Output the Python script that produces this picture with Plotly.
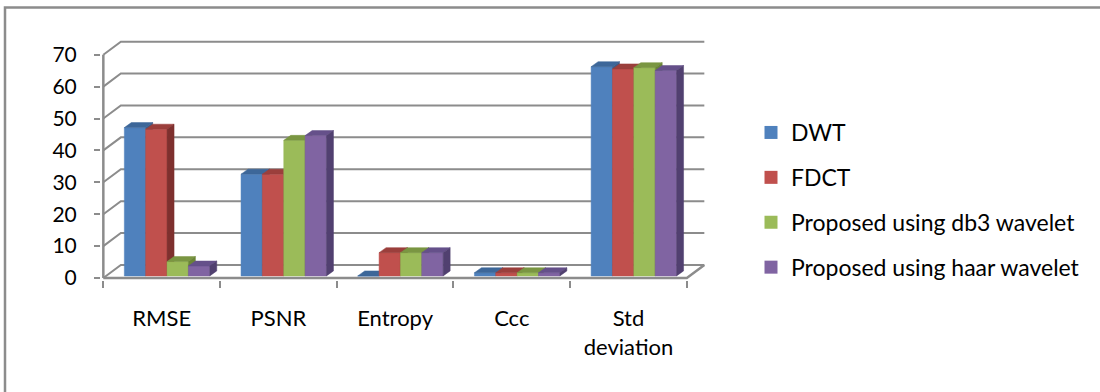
import plotly.graph_objects as go

categories = ["RMSE", "PSNR", "Entropy", "Ccc", "Std<br>deviation"]
series_names = ["DWT", "FDCT", "Proposed using db3 wavelet", "Proposed using haar wavelet"]
dwt = [46.5, 31.9, 0.0, 1.0, 65.6]
fdct = [46.0, 31.9, 7.3, 1.0, 64.9]
db3 = [4.5, 42.5, 7.3, 1.0, 65.3]
haar = [3.1, 44.0, 7.3, 1.0, 64.4]
y_ticks = [0, 10, 20, 30, 40, 50, 60, 70]

front_colors = ["#4F81BD", "#C0504D", "#9BBB59", "#8064A2"]
top_colors = ["#3D6799", "#9B3F3C", "#7A9642", "#65508A"]
side_colors = ["#385D8A", "#7E302E", "#6A8436", "#514070"]
GRID = "#8C8C8C"
FONT = "Lato"

# 3D projection offsets
WALL_DX, WALL_DY = 0.15, 4.1     # back wall offset (x units, value units)
BAR_DX, BAR_DY = 0.06, 1.57      # bar depth offset
BAR_BASE = 0.65
BAR_W = 0.183
BAR_START = 0.18
n_cat = len(categories)

# layout geometry (pixels)
W, H = 1100, 392
ML, MR, MT, MB = 101, 384, 38, 112
PW, PH = W - ML - MR, H - MT - MB


def px_to_paper_x(px):
    return (px - ML) / PW


def px_to_paper_y(py):
    return (H - MB - py) / PH


fig = go.Figure()

# back-wall gridlines with side-wall diagonals
gx, gy = [], []
for t in y_ticks:
    gx += [0, WALL_DX, n_cat + WALL_DX, None]
    gy += [t, t + WALL_DY, t + WALL_DY, None]
fig.add_trace(go.Scatter(x=gx, y=gy, mode="lines", line=dict(color=GRID, width=2),
                         hoverinfo="skip", showlegend=False))
# floor front edge + right diagonal, and y axis line
fig.add_trace(go.Scatter(x=[0, n_cat, n_cat + WALL_DX], y=[0, 0, WALL_DY], mode="lines",
                         line=dict(color=GRID, width=2.5), hoverinfo="skip", showlegend=False))
fig.add_trace(go.Scatter(x=[0, 0], y=[0, y_ticks[-1]], mode="lines",
                         line=dict(color=GRID, width=2.5), hoverinfo="skip", showlegend=False))

all_vals = [dwt, fdct, db3, haar]
for j, vals in enumerate(all_vals):
    fx, fy, tx, ty, sx, sy = [], [], [], [], [], []
    for i, v in enumerate(vals):
        xl = i + BAR_START + j * BAR_W
        xr = xl + BAR_W
        b = BAR_BASE
        top = b + v
        fx += [xl, xr, xr, xl, xl, None]
        fy += [b, b, top, top, b, None]
        tx += [xl, xl + BAR_DX, xr + BAR_DX, xr, xl, None]
        ty += [top, top + BAR_DY, top + BAR_DY, top, top, None]
        sx += [xr, xr + BAR_DX, xr + BAR_DX, xr, xr, None]
        sy += [b, b + BAR_DY, top + BAR_DY, top, b, None]
    for px, py, col in [(fx, fy, front_colors[j]), (tx, ty, top_colors[j]), (sx, sy, side_colors[j])]:
        fig.add_trace(go.Scatter(x=px, y=py, mode="lines", fill="toself", fillcolor=col,
                                 line=dict(width=0.5, color=col), hoverinfo="skip",
                                 showlegend=False))

# legend entries
for j, name in enumerate(series_names):
    fig.add_trace(go.Scatter(x=[None], y=[None], mode="markers", name=name,
                             legendgroup=f"g{j}",
                             marker=dict(symbol="square", size=13, color=front_colors[j])))

fig.update_layout(
    width=W, height=H,
    margin=dict(l=ML, r=MR, t=MT, b=MB, autoexpand=False),
    paper_bgcolor="white", plot_bgcolor="white",
    font=dict(family=FONT, size=22, color="black"),
    xaxis=dict(range=[-0.02, 5.25], showgrid=False, zeroline=False, showline=False,
               automargin=False,
               tickmode="array", tickvals=[i + 0.5 for i in range(n_cat)], ticktext=categories,
               ticks="", ticklabelstandoff=23,
               minor=dict(tickmode="array", tickvals=list(range(n_cat + 1)), ticks="outside",
                          ticklen=7, tickwidth=2, tickcolor=GRID, showgrid=False)),
    yaxis=dict(range=[-0.627, 75.24], showgrid=False, zeroline=False, showline=False,
               automargin=False, tickfont=dict(size=21),
               tickmode="array", tickvals=y_ticks, ticks="outside", ticklen=6, tickwidth=2,
               tickcolor=GRID, ticklabelstandoff=13),
    legend=dict(x=px_to_paper_x(751), xanchor="left", y=px_to_paper_y(111), yanchor="top",
                font=dict(family=FONT, size=23), tracegroupgap=12, bgcolor="rgba(0,0,0,0)"),
    shapes=[dict(type="rect", xref="paper", yref="paper",
                 x0=px_to_paper_x(5), x1=px_to_paper_x(1120),
                 y0=px_to_paper_y(420), y1=px_to_paper_y(7.5),
                 line=dict(color="#8C8C8C", width=2.5))],
)

fig.write_html("out.html", config={"displayModeBar": False},
               post_script="document.body.style.margin='0';document.body.style.overflow='hidden';")
